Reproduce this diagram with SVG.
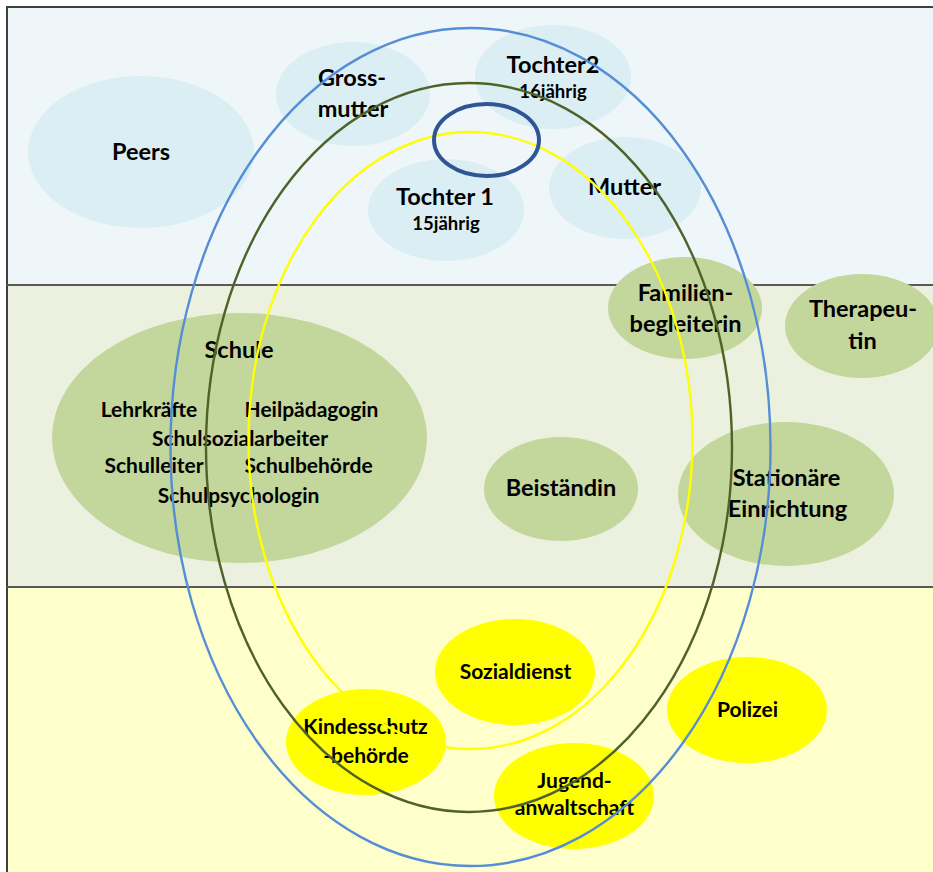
<svg xmlns="http://www.w3.org/2000/svg" width="933" height="872" viewBox="0 0 933 872">
<style>
.t{font-family:Lato,"Liberation Sans",sans-serif;font-weight:bold;fill:#000;text-anchor:middle}
.m{font-size:23.5px}
.s{font-size:21px}
.a{font-size:18.5px}
.blue{fill:#DAEEF3}
.green{fill:#C3D69B}
.yel{fill:#FFFF00}
.ring{fill:none;stroke-width:2.4}
</style>
<rect x="0" y="0" width="933" height="872" fill="#FFFFFF"/>
<g id="bands">
<rect x="7" y="7" width="930" height="278" fill="#EEF6F9"/>
<rect x="7" y="285" width="930" height="302" fill="#EBF1DE"/>
<rect x="7" y="587" width="930" height="290" fill="#FFFFCC"/>
<path d="M7,880 V7 H940" fill="none" stroke="#3F3F3F" stroke-width="2"/>
<path d="M7,285 H940 M7,587 H940" fill="none" stroke="#595959" stroke-width="2"/>
</g>
<g id="peers"><ellipse class="blue" cx="141" cy="152" rx="113" ry="76"/><text class="t m" x="141" y="160">Peers</text></g>
<g id="grossmutter"><ellipse class="blue" cx="353" cy="94" rx="77" ry="52"/><text class="t m" x="352" y="86">Gross-</text><text class="t m" x="353" y="117">mutter</text></g>
<g id="tochter2"><ellipse class="blue" cx="553" cy="77" rx="78" ry="52"/><text class="t m" x="553" y="73">Tochter2</text><text class="t a" x="553" y="98">16jährig</text></g>
<g id="tochter1"><ellipse class="blue" cx="446" cy="210" rx="78" ry="51"/><text class="t m" x="445" y="205">Tochter 1</text><text class="t a" x="446" y="230">15jährig</text></g>
<g id="mutter"><ellipse class="blue" cx="625" cy="188" rx="76" ry="51"/><text class="t m" x="624.5" y="195">Mutter</text></g>
<g id="schule"><ellipse class="green" cx="239.5" cy="438" rx="187.5" ry="125"/>
<text class="t m" x="239" y="358">Schule</text>
<text class="t s" x="149" y="417">Lehrkräfte</text>
<text class="t s" x="311.5" y="417">Heilpädagogin</text>
<text class="t s" x="240" y="446">Schulsozialarbeiter</text>
<text class="t s" x="154" y="473">Schulleiter</text>
<text class="t s" x="308.5" y="473">Schulbehörde</text>
<text class="t s" x="238.5" y="503">Schulpsychologin</text></g>
<g id="familienbegleiterin"><ellipse class="green" cx="685" cy="308" rx="77" ry="51"/><text class="t m" x="685.5" y="301">Familien-</text><text class="t m" x="685.5" y="332">begleiterin</text></g>
<g id="therapeutin"><ellipse class="green" cx="862" cy="326" rx="77" ry="52"/><text class="t m" x="863" y="317">Therapeu-</text><text class="t m" x="862.5" y="349">tin</text></g>
<g id="beistaendin"><ellipse class="green" cx="561" cy="489" rx="77" ry="52"/><text class="t m" x="561" y="496">Beiständin</text></g>
<g id="stationaere"><ellipse class="green" cx="786" cy="494" rx="108" ry="72"/><text class="t m" x="786.5" y="486">Stationäre</text><text class="t m" x="787.5" y="517">Einrichtung</text></g>
<g id="sozialdienst"><ellipse class="yel" cx="515" cy="672" rx="80" ry="53"/><text class="t s" x="515.5" y="679">Sozialdienst</text></g>
<g id="kesb"><ellipse class="yel" cx="366" cy="742" rx="80" ry="53"/><text class="t s" x="365.5" y="734">Kindesschutz</text><text class="t s" x="366" y="763">-behörde</text></g>
<g id="polizei"><ellipse class="yel" cx="747" cy="710" rx="80" ry="53"/><text class="t s" x="747.5" y="717">Polizei</text></g>
<g id="jugendanwaltschaft"><ellipse class="yel" cx="574" cy="796" rx="80" ry="53"/><text class="t s" x="574.5" y="788">Jugend-</text><text class="t s" x="574.5" y="815">anwaltschaft</text></g>
<g id="rings">
<ellipse class="ring" cx="470.5" cy="447" rx="300" ry="419" stroke="#558ED5"/>
<ellipse class="ring" cx="469" cy="447.5" rx="263" ry="364.5" stroke="#4F6228"/>
<ellipse class="ring" cx="470.5" cy="440.5" rx="222" ry="308.5" stroke="#FFFF00"/>
<ellipse cx="486.5" cy="140" rx="52.5" ry="36" fill="none" stroke="#2F5597" stroke-width="4"/>
</g>
</svg>
